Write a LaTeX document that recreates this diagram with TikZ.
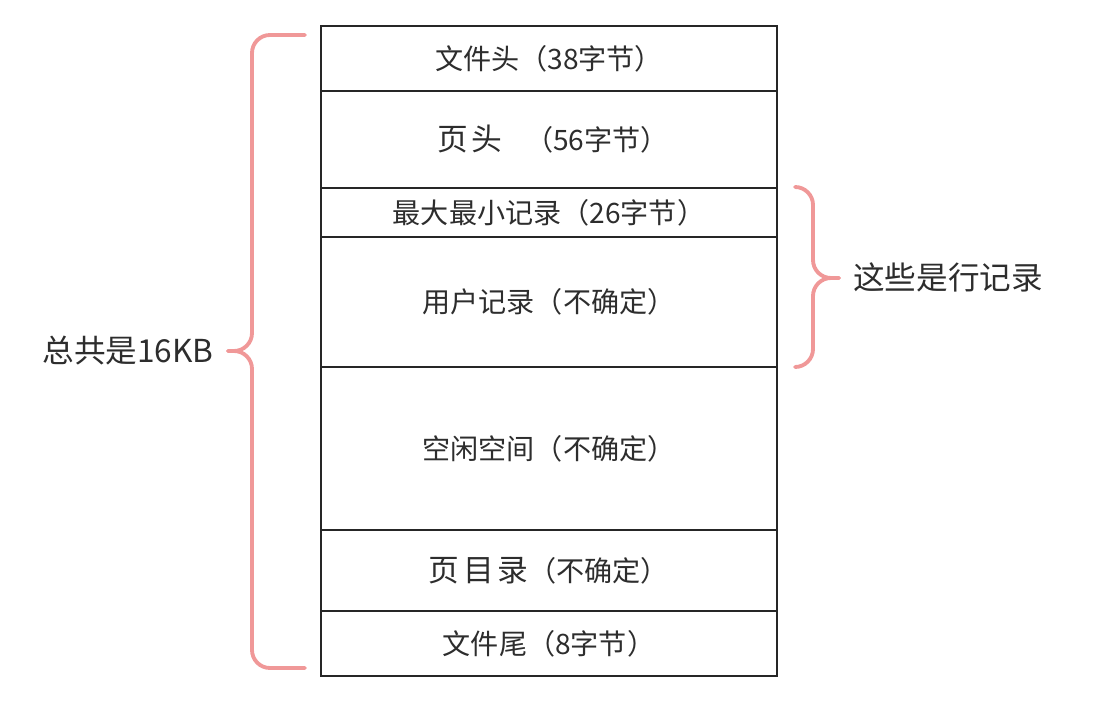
\documentclass[tikz,border=0pt]{standalone}
\usepackage{fontspec}
\newfontfamily\cjk{Noto Sans CJK SC}
\definecolor{bracepink}{RGB}{240,152,152}
\definecolor{textgray}{RGB}{45,45,45}
\newcommand{\bigcjk}{\fontsize{17.5}{20}\selectfont}
\tikzset{
  row/.style={draw=black!85, line width=0.7pt, minimum width=9.12cm, inner sep=0pt,
    font=\cjk\fontsize{16}{18}\selectfont, text=textgray},
  bracepath/.style={draw=bracepink, line width=2.2pt, line cap=round, rounded corners=0.36cm},
  sidetext/.style={font=\cjk\fontsize{18}{20}\selectfont, text=textgray}
}
\begin{document}
\begin{tikzpicture}[x=0.02cm, y=-0.02cm]
\useasboundingbox (0,0) rectangle (1114,712);
\node[row, minimum height=1.3cm] (filehead) at (549,58.5) {文件头（38字节）};
\node[row, minimum height=1.94cm] (pagehead) at (549,139.5) {\hspace*{0.16cm}{\bigcjk 页\hspace{0.12em}头}\hspace{0.8em}（56字节）};
\node[row, minimum height=0.98cm] (minmax) at (549,212.5) {最大最小记录（26字节）};
\node[row, minimum height=2.6cm] (userrec) at (549,302) {用户记录（不确定）};
\node[row, minimum height=3.26cm] (freespace) at (549,448.5) {空闲空间（不确定）};
\node[row, minimum height=1.62cm] (pagedir) at (549,570.5) {{\bigcjk 页\hspace{0.12em}目\hspace{0.12em}录}（不确定）};
\node[row, minimum height=1.3cm] (filetail) at (549,643.5) {文件尾（8字节）};
% braces
\draw[bracepath] (305,35) -- (252,35) -- (252,351) -- (228,351);
\draw[bracepath] (228,351) -- (252,351) -- (252,668) -- (305,668);
\draw[bracepath] (795,187) -- (813,187) -- (813,278) -- (839,278);
\draw[bracepath] (839,278) -- (813,278) -- (813,367) -- (795,367);
\node[sidetext] (total) at (128,351) {总共是16KB};
\node[sidetext] (rowrec) at (948,277) {这些是行记录};
\end{tikzpicture}
\end{document}
